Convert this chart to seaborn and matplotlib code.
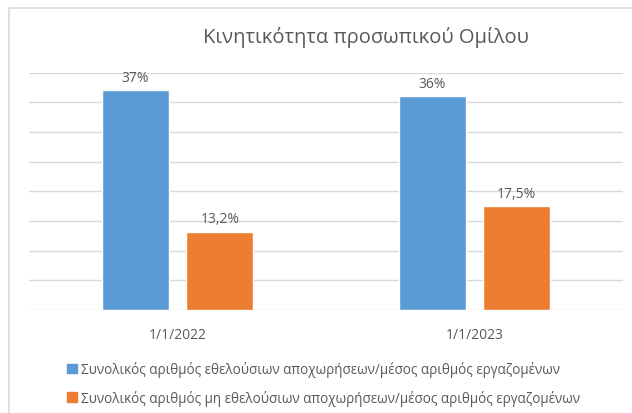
import pandas as pd
import matplotlib.pyplot as plt
import matplotlib.patches as mpatches
import seaborn as sns

sns.set_theme(style="white")
plt.rcParams['font.family'] = ['Open Sans', 'DejaVu Sans']

# data
dates = ["1/1/2022", "1/1/2023"]
series_names = ["Συνολικός αριθμός εθελούσιων αποχωρήσεων/μέσος αριθμός εργαζομένων",
                "Συνολικός αριθμός μη εθελούσιων αποχωρήσεων/μέσος αριθμός εργαζομένων"]
voluntary = [37, 36]
involuntary = [13.2, 17.5]
value_labels = [["37%", "36%"], ["13,2%", "17,5%"]]
colors = ["#5B9BD5", "#ED7D31"]
title = "Κινητικότητα προσωπικού Ομίλου"

df = pd.DataFrame({
    "date": dates * 2,
    "series": [series_names[0]] * 2 + [series_names[1]] * 2,
    "value": voluntary + involuntary,
})

fig = plt.figure(figsize=(6.32, 4.14), dpi=100)
ax = fig.add_axes([29 / 632, 1 - 311 / 414, 594 / 632, 237.5 / 414])

sns.barplot(data=df, x="date", y="value", hue="series", palette=colors,
            width=0.57, gap=0.21, saturation=1, ax=ax, legend=False)

ax.set_ylim(0, 40)
ax.set_xlim(-0.5, 1.5)
ax.set_yticks(range(0, 41, 5))
ax.yaxis.grid(True, color="#d9d9d9", linewidth=1)
ax.set_axisbelow(True)
ax.tick_params(axis="y", left=False, labelleft=False)
ax.tick_params(axis="x", bottom=False, labelsize=10, colors="#595959", pad=6)
for s in ax.spines.values():
    s.set_visible(False)
ax.set_xlabel("")
ax.set_ylabel("")

for cont, labels in zip(ax.containers, value_labels):
    ax.bar_label(cont, labels=labels, padding=4, fontsize=10, color="#595959")

fig.text(366 / 632, 1 - 38 / 414, title, ha="center", va="center",
         fontsize=14.5, color="#595959")

# legend
handles = [mpatches.Patch(color=c, label=n) for c, n in zip(colors, series_names)]
fig.legend(handles=handles, loc="upper left", bbox_to_anchor=(62 / 632, 1 - 357 / 414),
           ncol=1, frameon=False, fontsize=9.75, handlelength=0.7, handleheight=0.7,
           handletextpad=0.3, labelspacing=0.9, labelcolor="#595959", borderaxespad=0)

# outer chart frame
fig.patches.append(mpatches.Rectangle((9 / 632, -0.05), 1.1, 1 - 9 / 414 + 0.05,
                                      transform=fig.transFigure, fill=False,
                                      edgecolor="#d9d9d9", linewidth=1.2))

fig.savefig("out.png", dpi=100)
